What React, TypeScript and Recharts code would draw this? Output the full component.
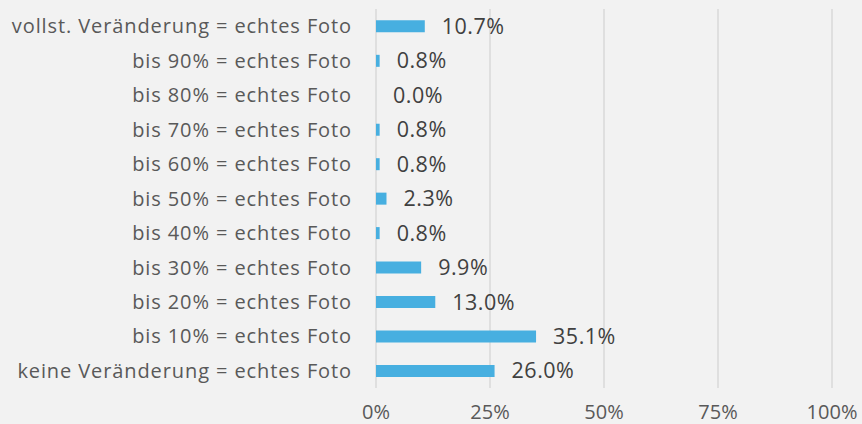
import { BarChart, Bar, XAxis, YAxis, CartesianGrid, LabelList } from 'recharts';

const categories = [
  'vollst. Veränderung = echtes Foto',
  'bis 90% = echtes Foto',
  'bis 80% = echtes Foto',
  'bis 70% = echtes Foto',
  'bis 60% = echtes Foto',
  'bis 50% = echtes Foto',
  'bis 40% = echtes Foto',
  'bis 30% = echtes Foto',
  'bis 20% = echtes Foto',
  'bis 10% = echtes Foto',
  'keine Veränderung = echtes Foto',
];
const shares = [10.7, 0.8, 0.0, 0.8, 0.8, 2.3, 0.8, 9.9, 13.0, 35.1, 26.0];
const xTicks = [0, 25, 50, 75, 100];

const data = categories.map((name, i) => ({ name, value: shares[i] }));

const font = '"Open Sans", "Noto Sans", sans-serif';

// draws the value even when the bar has zero width
const ValueLabel = (props: any) => {
  const { x, y, width, height, value } = props;
  return (
    <text
      x={Number(x) + Number(width || 0) + 17}
      y={Number(y) + Number(height) / 2}
      dy="0.35em"
      fill="#404040"
      fontSize={21.5}
      letterSpacing={0.5}
      fontFamily={font}
    >
      {`${Number(value).toFixed(1)}%`}
    </text>
  );
};

export default function App() {
  return (
    <div style={{ position: 'fixed', left: 0, top: 0, width: 862, height: 424, background: '#f2f2f2', fontFamily: font }}>
      <BarChart
        width={862}
        height={424}
        data={data}
        layout="vertical"
        margin={{ top: 9, right: 30, left: 0, bottom: 0 }}
        barCategoryGap="33%"
      >
        <CartesianGrid horizontal={false} stroke="#d9d9d9" strokeWidth={1.5} />
        <XAxis
          type="number"
          domain={[0, 100]}
          ticks={xTicks}
          tickFormatter={(v) => `${v}%`}
          axisLine={false}
          tickLine={false}
          height={36}
          tickMargin={11}
          tick={{ fill: '#595959', fontSize: 20, fontFamily: font }}
        />
        <YAxis
          type="category"
          dataKey="name"
          width={376}
          axisLine={false}
          tickLine={false}
          tickSize={0}
          tickMargin={24}
          tick={{ fill: '#595959', fontSize: 20, letterSpacing: 0.9, fontFamily: font }}
        />
        <Bar dataKey="value" fill="#47afe0" minPointSize={0.01} isAnimationActive={false}>
          <LabelList dataKey="value" content={ValueLabel} />
        </Bar>
      </BarChart>
    </div>
  );
}
